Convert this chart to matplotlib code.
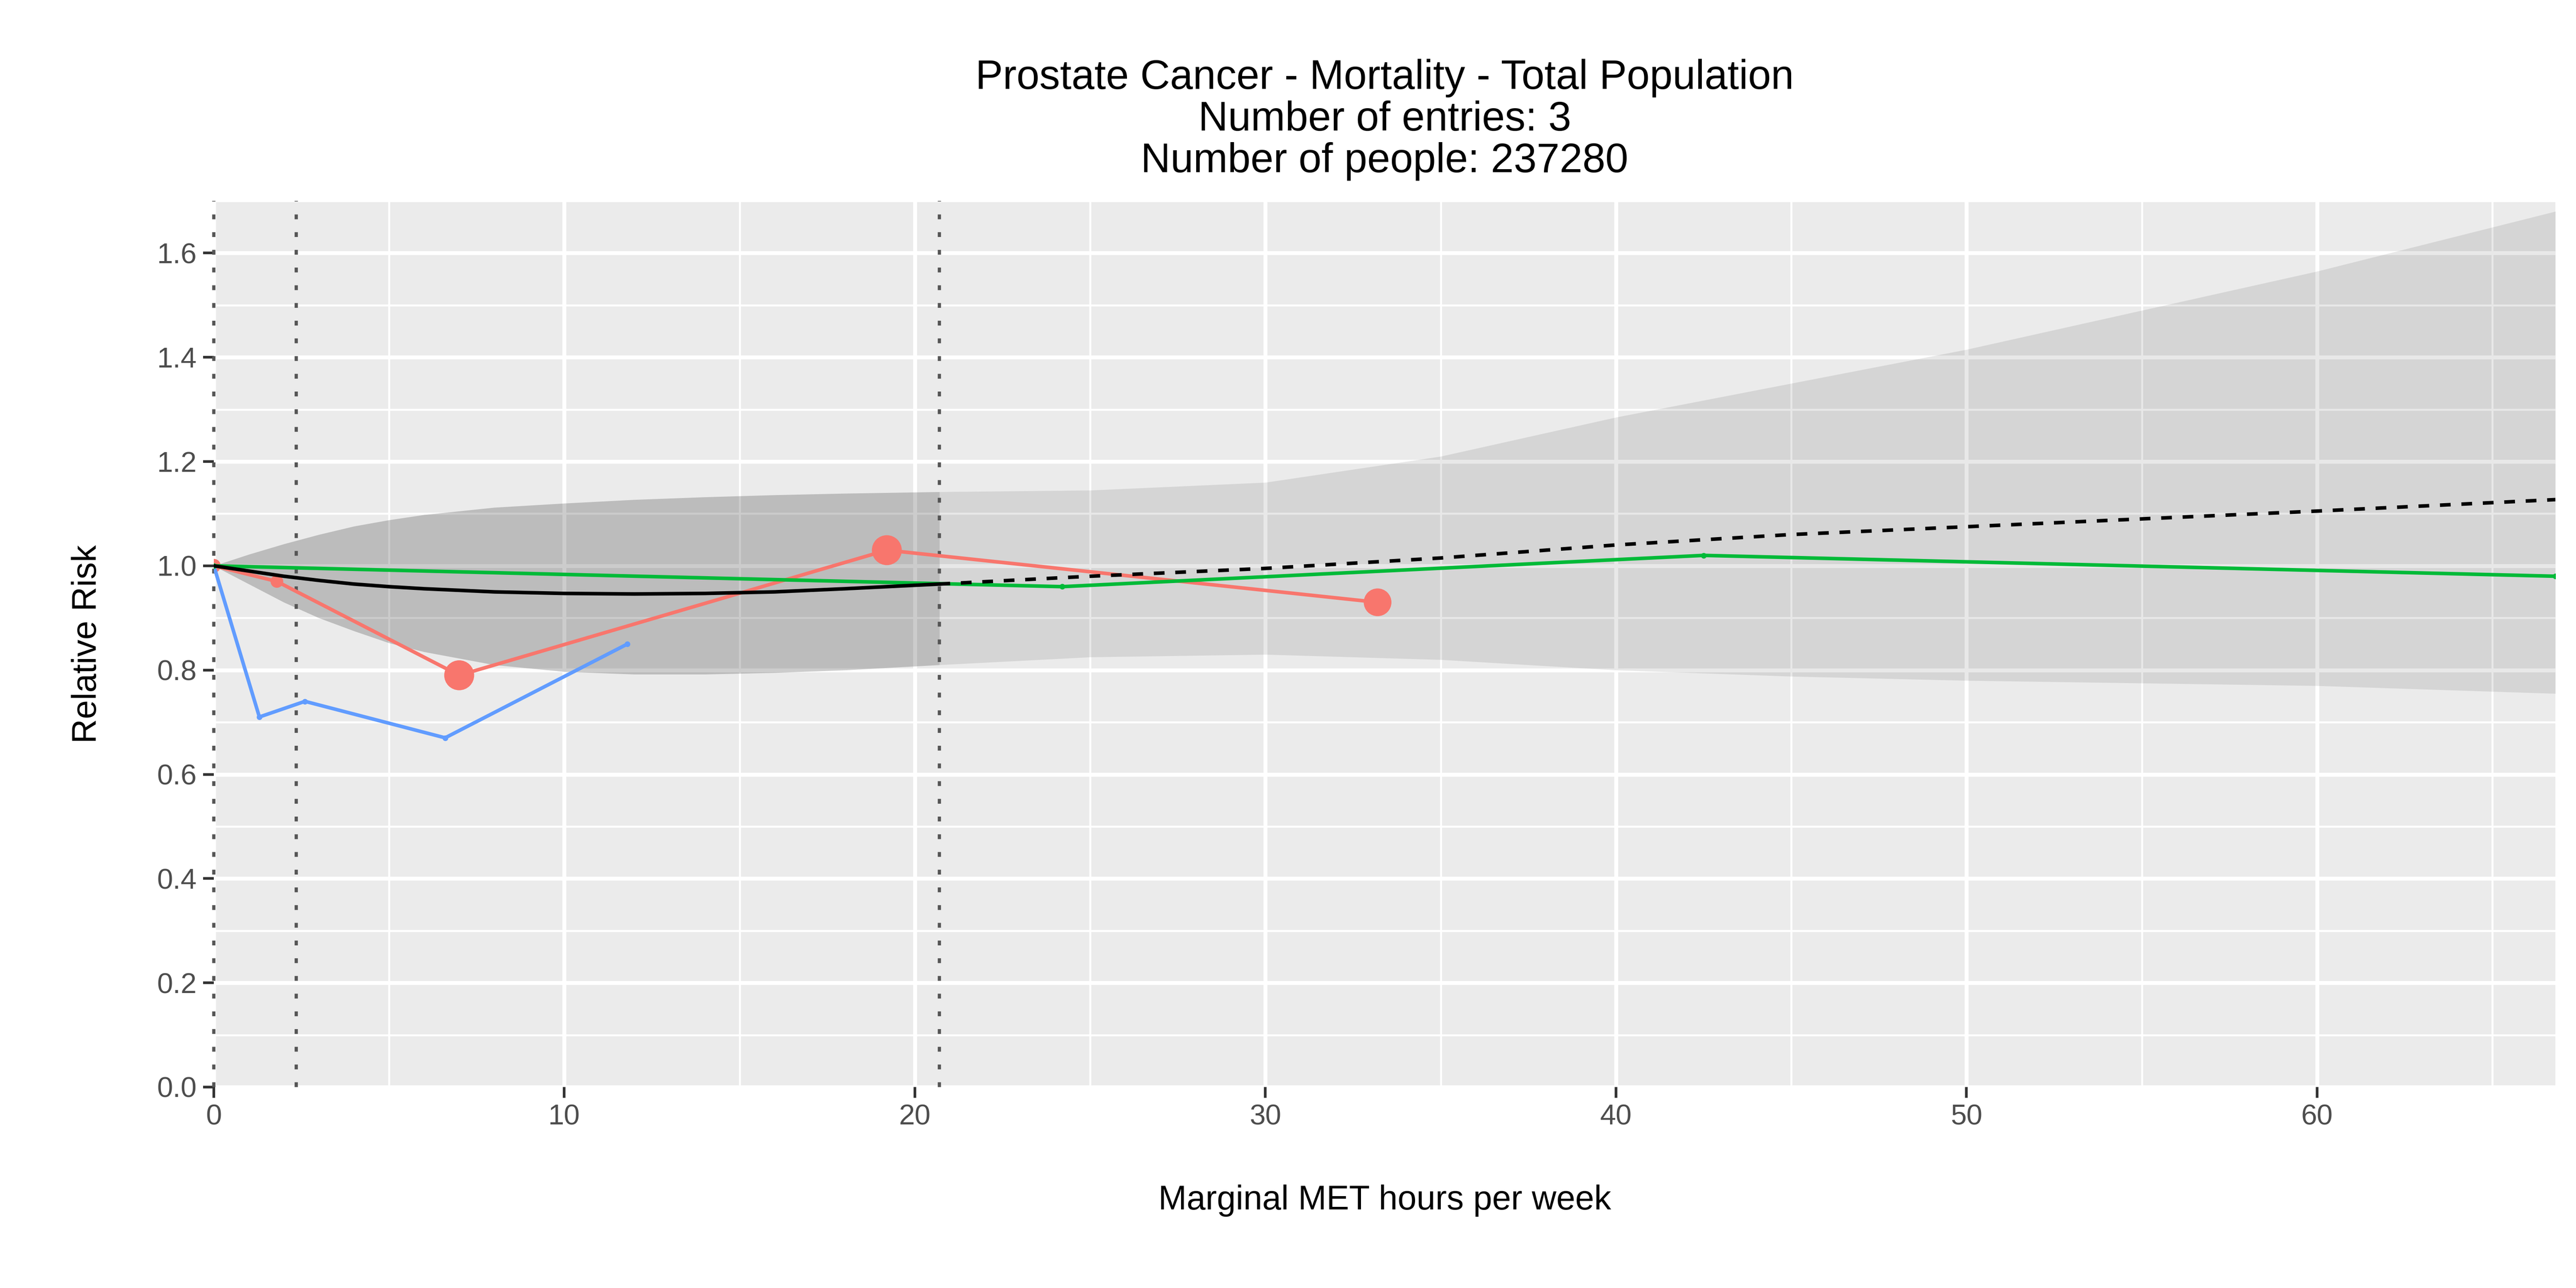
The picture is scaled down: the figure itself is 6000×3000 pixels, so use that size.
import numpy as np
import matplotlib
matplotlib.use("Agg")
from matplotlib import pyplot as plt

plt.rcParams['font.family'] = ['Liberation Sans', 'DejaVu Sans']

# fitted curve and confidence band
fitX = [0, 1, 2, 3, 4, 5, 6, 8, 10, 12, 14, 16, 18, 20.7]
fitY = [1.0, 0.99, 0.98, 0.972, 0.965, 0.96, 0.956, 0.95, 0.947, 0.946, 0.947, 0.95, 0.956, 0.965]
fitLo = [1.0, 0.965, 0.93, 0.90, 0.875, 0.852, 0.835, 0.81, 0.797, 0.792, 0.792, 0.795, 0.80, 0.81]
fitHi = [1.0, 1.022, 1.042, 1.06, 1.076, 1.088, 1.098, 1.112, 1.12, 1.127, 1.132, 1.136, 1.139, 1.142]

extX = [20.7, 25, 30, 35, 40, 45, 50, 55, 60, 66.8]
extY = [0.965, 0.98, 0.995, 1.015, 1.04, 1.06, 1.075, 1.09, 1.105, 1.127]
extLo = [0.81, 0.825, 0.83, 0.82, 0.80, 0.788, 0.78, 0.775, 0.77, 0.755]
extHi = [1.142, 1.145, 1.16, 1.21, 1.285, 1.35, 1.415, 1.49, 1.565, 1.68]

# studies
redX = [0, 1.8, 7, 19.2, 33.2]
redY = [1.0, 0.97, 0.79, 1.03, 0.93]
redS = [60, 50, 280, 280, 240]
blueX = [0, 1.3, 2.6, 6.6, 11.8]
blueY = [1.0, 0.71, 0.74, 0.67, 0.85]
greenX = [0, 24.2, 42.5, 66.8]
greenY = [1.0, 0.96, 1.02, 0.98]

vlines = [0, 2.35, 20.7]

fig = plt.figure(figsize=(20, 10), dpi=300)
ax = fig.add_axes([0.083, 0.156, 0.909, 0.688])
ax.set_facecolor('#EBEBEB')

ax.set_xlim(0, 66.8)
ax.set_ylim(0, 1.655)
ax.set_xticks(np.arange(0, 61, 10))
ax.set_xticks(np.arange(5, 66, 10), minor=True)
ax.set_yticks(np.arange(0, 1.61, 0.2))
ax.set_yticks(np.arange(0.1, 1.71, 0.2), minor=True)
ax.set_yticklabels(['%.1f' % t for t in np.arange(0, 1.61, 0.2)])
ax.grid(which='major', color='white', lw=2.2)
ax.grid(which='minor', color='white', lw=1.1)
ax.set_axisbelow(True)

ax.fill_between(extX, extLo, extHi, color='black', alpha=0.09, lw=0, zorder=1)
ax.fill_between(fitX, fitLo, fitHi, color='black', alpha=0.2, lw=0, zorder=1.1)

ax.plot(redX, redY, color='#F8766D', lw=2, zorder=3)
ax.scatter(redX, redY, s=redS, color='#F8766D', zorder=3, lw=0)
ax.plot(blueX, blueY, color='#619CFF', lw=2, zorder=3)
ax.scatter(blueX, blueY, s=10, color='#619CFF', zorder=3, lw=0)
ax.plot(greenX, greenY, color='#00BA38', lw=2, zorder=3)
ax.scatter(greenX, greenY, s=10, color='#00BA38', zorder=3, lw=0)

ax.plot(fitX, fitY, color='black', lw=2, zorder=4)
ax.plot(extX, extY, color='black', lw=2, ls=(0, (3, 3)), zorder=4)

for v in vlines:
    ax.axvline(v, color='#555555', lw=1.8, ls=(0, (1.5, 4)), zorder=2, clip_on=False)

for s in ax.spines.values():
    s.set_visible(False)
ax.tick_params(which='major', length=6, width=1.5, color='#333333', labelsize=16, labelcolor='#4D4D4D')
ax.tick_params(which='minor', length=0)

ax.set_xlabel('Marginal MET hours per week', fontsize=19, labelpad=30)
ax.set_ylabel('Relative Risk', fontsize=19, labelpad=30)
ax.set_title('Prostate Cancer - Mortality - Total Population\nNumber of entries: 3\nNumber of people: 237280',
             fontsize=23, linespacing=1.1, pad=16)

fig.savefig('out.png')
